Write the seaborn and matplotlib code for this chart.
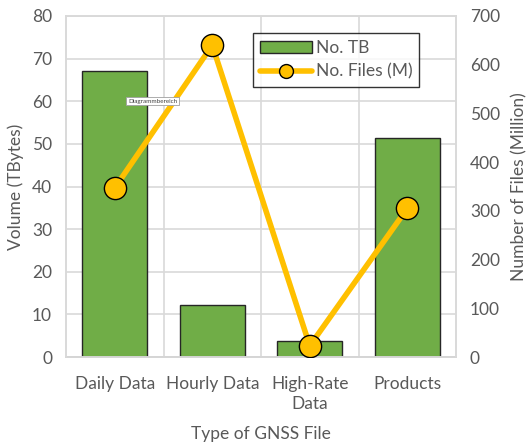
import numpy as np
import pandas as pd
import matplotlib
matplotlib.use("Agg")
import matplotlib.pyplot as plt
import seaborn as sns
from matplotlib.patches import Patch
from matplotlib.lines import Line2D

# data
categories = ["Daily Data", "Hourly Data", "High-Rate\nData", "Products"]
volume_tb = [67.0, 12.2, 3.7, 51.3]
files_million = [347, 640, 23, 305]

GREEN = "#70AD47"
GOLD = "#FFC000"
TEXT = "#595959"
GRID = "#D9D9D9"

sns.set_theme(style="white")
plt.rcParams["font.family"] = ["Lato", "DejaVu Sans"]

df = pd.DataFrame({"type": categories, "tb": volume_tb, "files": files_million})

fig = plt.figure(figsize=(5.27, 4.46), dpi=100)
ax = fig.add_axes([66 / 527, 1 - 357 / 446, 390 / 527, 341 / 446])

sns.barplot(data=df, x="type", y="tb", ax=ax, color=GREEN, saturation=1,
            width=0.67, edgecolor="#262626", linewidth=1.0, zorder=2)
ax.set_ylim(0, 80)
ax.set_xlim(-0.5, 3.5)
ax.set_yticks(np.arange(0, 81, 10))
ax.yaxis.grid(True, color=GRID, linewidth=1.2, zorder=0)
for xb in [0.5, 1.5, 2.5]:
    ax.axvline(xb, color=GRID, linewidth=1.2, zorder=0)
ax.set_axisbelow(True)

ax2 = ax.twinx()
sns.lineplot(data=df, x="type", y="files", ax=ax2, sort=False, color=GOLD,
             linewidth=4, marker="o", markersize=16, markerfacecolor=GOLD,
             markeredgecolor="black", markeredgewidth=1.0, zorder=3)
ax2.set_ylim(0, 700)
ax2.set_yticks(np.arange(0, 701, 100))

for a in (ax, ax2):
    for s in a.spines.values():
        s.set_color(GRID)
        s.set_linewidth(1.2)
    a.tick_params(colors=TEXT, labelsize=12.5, length=0, pad=10)
ax.tick_params(axis="x", pad=14)

ax.spines["bottom"].set_color("#BFBFBF")
ax.set_xlabel("Type of GNSS File", color=TEXT, fontsize=12.5, labelpad=10)
ax.set_ylabel("Volume (TBytes)", color=TEXT, fontsize=12.5, labelpad=6)
ax2.set_ylabel("Number of Files (Million)", color=TEXT, fontsize=12.5, labelpad=8)
ax2.set_xlabel("")
for lab in ax.get_xticklabels():
    lab.set_linespacing(1.3)

handles = [
    Patch(facecolor=GREEN, edgecolor="#262626", linewidth=1.0, label="No. TB"),
    Line2D([0], [0], color=GOLD, linewidth=4, marker="o", markersize=10,
           markerfacecolor=GOLD, markeredgecolor="black", label="No. Files (M)"),
]
leg = ax2.legend(handles=handles, loc="upper left",
                 bbox_to_anchor=((253 - 66) / 390, (357 - 33) / 341),
                 frameon=True, fancybox=False, fontsize=12.5, handlelength=3.0,
                 borderpad=0.4, labelspacing=0.45, handletextpad=0.2,
                 borderaxespad=0)
leg.get_frame().set_edgecolor("black")
leg.get_frame().set_linewidth(1.0)
for t in leg.get_texts():
    t.set_color(TEXT)

# Excel tooltip left in the screenshot
fig.text(128 / 527, 1 - 101 / 446, "Diagrammbereich", fontsize=4.5, color="#404040",
         va="center", ha="left",
         bbox=dict(boxstyle="square,pad=0.3", facecolor="white", edgecolor="#A0A0A0", linewidth=0.6))

fig.savefig("out.png", dpi=100)
